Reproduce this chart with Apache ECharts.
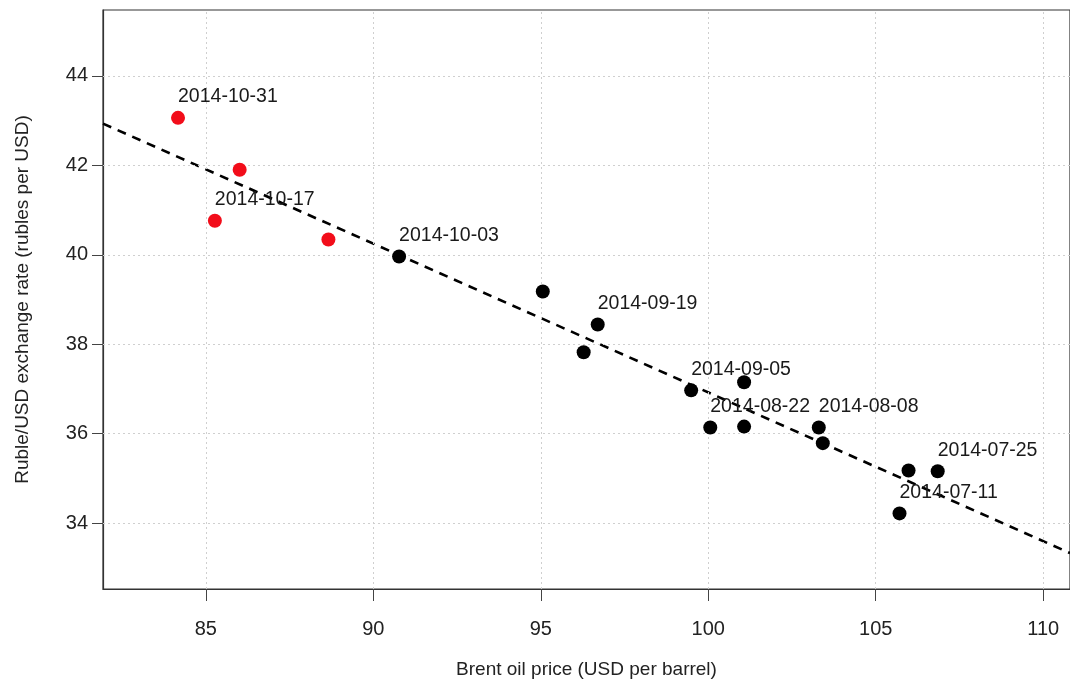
<!DOCTYPE html>
<html>
<head>
<meta charset="utf-8">
<script src="https://cdn.jsdelivr.net/npm/echarts@6/dist/echarts.min.js"></script>
<style>html,body{margin:0;padding:0;background:#fff}#c{width:1070px;height:684px}</style>
</head>
<body>
<div id="c"></div>
<script>
// Weekly observations (Brent oil price, RUB/USD rate)
const dates = ['2014-07-11','2014-07-18','2014-07-25','2014-08-01','2014-08-08','2014-08-15','2014-08-22','2014-08-29','2014-09-05','2014-09-12','2014-09-19','2014-09-26','2014-10-03','2014-10-10','2014-10-17','2014-10-24','2014-10-31'];
const brent = [105.71,105.98,106.85,103.42,103.30,101.07,100.06,101.07,99.49,96.28,96.70,95.06,90.77,88.66,85.27,86.01,84.17];
const rubUsd = [34.22,35.18,35.16,35.79,36.14,36.16,36.14,37.15,36.97,37.82,38.44,39.18,39.96,40.34,40.76,41.90,43.06];
const labelledDates = ['2014-07-11','2014-07-25','2014-08-08','2014-08-22','2014-09-05','2014-09-19','2014-10-03','2014-10-17','2014-10-31'];
const redFrom = '2014-10-10';
const xTicks = [85,90,95,100,105,110];
const yTicks = [34,36,38,40,42,44];

const X_MIN = 81.93, X_MAX = 110.8, Y_MIN = 32.53, Y_MAX = 45.47;

// least squares fit
const n = brent.length;
const mx = brent.reduce((a,b)=>a+b,0)/n, my = rubUsd.reduce((a,b)=>a+b,0)/n;
let sxy=0, sxx=0;
for (let i=0;i<n;i++){ sxy += (brent[i]-mx)*(rubUsd[i]-my); sxx += (brent[i]-mx)**2; }
const slope = sxy/sxx, icpt = my - slope*mx;
const fitLine = [[X_MIN, icpt+slope*X_MIN],[X_MAX, icpt+slope*X_MAX]];

const FONT = 'Liberation Sans, Arial, sans-serif';
const pts = dates.map((d,i)=>({
  value:[brent[i], rubUsd[i]],
  itemStyle:{color: d >= redFrom ? '#f20d1a' : '#000000', opacity:1},
  label:{show: labelledDates.includes(d), formatter: d}
}));

const gridLines = [];
xTicks.forEach(v=>gridLines.push({xAxis:v}));
yTicks.forEach(v=>gridLines.push({yAxis:v}));

const chart = echarts.init(document.getElementById('c'), null, {renderer:'canvas'});
chart.setOption({
  animation:false,
  backgroundColor:'#ffffff',
  textStyle:{fontFamily:FONT},
  grid:{left:103, top:10, bottom:94, right:-3, show:true, borderColor:'#333', borderWidth:1.2, backgroundColor:'transparent'},
  xAxis:{
    type:'value', min:X_MIN, max:X_MAX,
    name:'Brent oil price (USD per barrel)', nameLocation:'middle', nameGap:71,
    nameTextStyle:{fontSize:19, color:'#222', fontFamily:FONT},
    axisLine:{show:true, onZero:false, lineStyle:{color:'#333', width:1.2}},
    axisTick:{show:true, length:12, customValues:xTicks, lineStyle:{color:'#444'}},
    axisLabel:{fontSize:20, color:'#222', margin:30, customValues:xTicks, fontFamily:FONT},
    splitLine:{show:false}
  },
  yAxis:{
    type:'value', min:Y_MIN, max:Y_MAX,
    name:'Ruble/USD exchange rate (rubles per USD)', nameLocation:'middle', nameGap:71,
    nameTextStyle:{fontSize:19, color:'#222', fontFamily:FONT},
    axisLine:{show:true, onZero:false, lineStyle:{color:'#333', width:1.2}},
    axisTick:{show:true, length:11, customValues:yTicks, lineStyle:{color:'#444'}},
    axisLabel:{fontSize:20, color:'#222', margin:15, customValues:yTicks, fontFamily:FONT},
    splitLine:{show:false}
  },
  series:[
    {
      type:'scatter', data:[], z:1, silent:true,
      markLine:{silent:true, symbol:['none','none'], label:{show:false},
        lineStyle:{color:'#cfcfcf', type:[2,3], width:1}, data:gridLines, animation:false}
    },
    {
      type:'line', data:fitLine, showSymbol:false, symbol:'none', z:2, silent:true,
      lineStyle:{color:'#000', width:2.6, type:[9,7]}
    },
    {
      type:'scatter', data:pts, symbolSize:14, z:10,
      itemStyle:{opacity:1},
      label:{position:[7,-14], align:'left', verticalAlign:'middle', fontSize:19.5, color:'#1a1a1a', opacity:1, fontFamily:FONT}
    }
  ]
});
</script>
</body>
</html>
